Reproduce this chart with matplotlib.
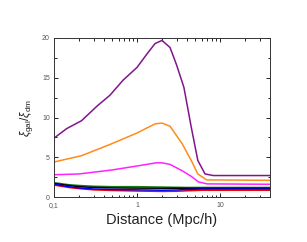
import numpy as np
import matplotlib
matplotlib.use("Agg")
import matplotlib.pyplot as plt
from matplotlib.ticker import FixedLocator, MultipleLocator, LogLocator, NullFormatter

plt.rcParams['font.family'] = ['Liberation Sans', 'DejaVu Sans']
plt.rcParams['mathtext.fontset'] = 'custom'
plt.rcParams['mathtext.rm'] = 'Liberation Sans'
plt.rcParams['mathtext.it'] = 'Liberation Sans:italic'

# Données
x_purple = [0.1, 0.142, 0.215, 0.327, 0.472, 0.68, 1.0, 1.32, 1.65, 2.0, 2.5, 3.0, 3.67, 4.5, 5.4, 6.6, 8.3, 40]
y_purple = [7.4, 8.6, 9.6, 11.4, 12.8, 14.7, 16.3, 18.0, 19.3, 19.7, 18.8, 16.6, 13.8, 8.8, 4.6, 2.9, 2.7, 2.7]

x_orange = [0.1, 0.215, 0.47, 1.0, 1.65, 2.0, 2.5, 3.5, 4.5, 5.4, 6.9, 40]
y_orange = [4.4, 5.2, 6.6, 8.05, 9.2, 9.3, 8.9, 6.7, 4.6, 2.9, 2.15, 2.1]

x_magenta = [0.1, 0.2, 0.5, 1.0, 1.7, 2.0, 2.5, 3.5, 4.5, 5.5, 7.0, 40]
y_magenta = [2.8, 2.9, 3.4, 3.9, 4.3, 4.3, 4.1, 3.3, 2.6, 1.9, 1.65, 1.6]

x_low = [0.1, 0.15, 0.2, 0.3, 0.5, 1.0, 2.0, 3.0, 4.0, 6.0, 10.0, 40]
y_green = [1.8, 1.55, 1.45, 1.35, 1.3, 1.3, 1.25, 1.22, 1.2, 1.2, 1.2, 1.2]
y_black = [1.7, 1.45, 1.3, 1.2, 1.15, 1.12, 1.1, 1.1, 1.1, 1.1, 1.1, 1.1]
y_blue = [1.6, 1.3, 1.15, 1.0, 0.95, 0.9, 0.85, 0.88, 0.95, 1.0, 1.0, 1.0]
y_red = [1.5, 1.2, 1.05, 0.9, 0.82, 0.75, 0.7, 0.72, 0.78, 0.85, 0.85, 0.85]

plt.figure(figsize=(3.07, 2.42), dpi=100)
ax = plt.gca()
plt.subplots_adjust(left=54/307, right=270/307, top=1-38/242, bottom=1-197/242)

ax.plot(x_low, y_green, color="#1a7a1a", lw=1.1)
ax.plot(x_low, y_black, color="black", lw=1.1)
ax.plot(x_low, y_red, color="red", lw=1.1)
ax.plot(x_low, y_blue, color="blue", lw=1.1)
ax.plot(x_magenta, y_magenta, color="#ff22ff", lw=1.1)
ax.plot(x_orange, y_orange, color="#ff8c1a", lw=1.1)
ax.plot(x_purple, y_purple, color="#80168c", lw=1.1)

ax.set_xscale("log")
ax.set_xlim(0.1, 40)
ax.set_ylim(0, 20)
ax.xaxis.set_major_locator(FixedLocator([0.1, 1, 10]))
ax.set_xticklabels(["0,1", "1", "10"])
ax.xaxis.set_minor_locator(LogLocator(base=10, subs=np.arange(2, 10)))
ax.xaxis.set_minor_formatter(NullFormatter())
ax.yaxis.set_major_locator(MultipleLocator(5))
ax.yaxis.set_minor_locator(MultipleLocator(2.5))

ax.tick_params(which="both", direction="in", top=True, right=True,
               labelsize=5, labelcolor="#555555", width=0.6, pad=2)
ax.tick_params(axis="x", pad=3.5)
ax.tick_params(axis="y", pad=3)
ax.tick_params(which="major", length=3)
ax.tick_params(which="minor", length=1.8)
for s in ax.spines.values():
    s.set_linewidth(0.7)
    s.set_color("#333333")

ax.set_xlabel("Distance (Mpc/h)", fontsize=10.5, labelpad=3, color="#222222")
ax.set_ylabel(r"$\xi_{\rm gal}/\xi_{\rm dm}$", fontsize=8.5, labelpad=5, color="#222222")

plt.savefig("out.png", dpi=100)
